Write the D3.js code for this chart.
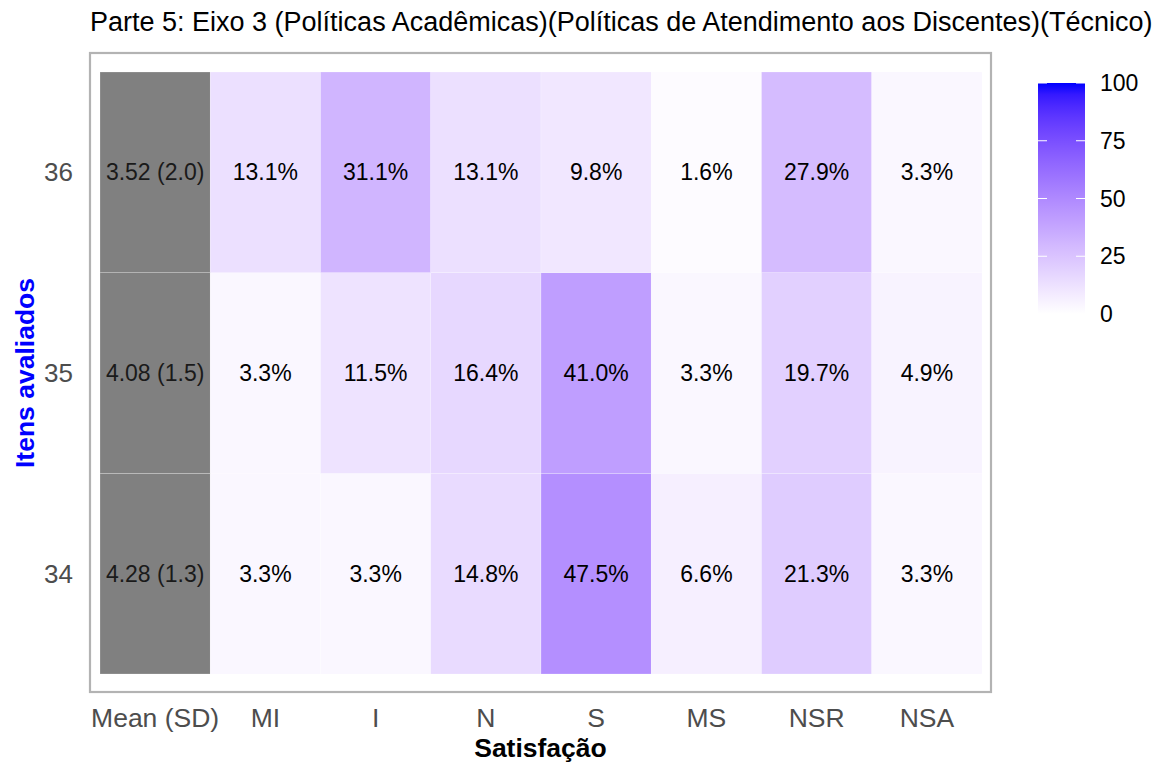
<!DOCTYPE html>
<html>
<head>
<meta charset="utf-8">
<script src="https://cdn.jsdelivr.net/npm/d3@7"></script>
<style>
  body { margin: 0; background: #fff; }
  text { font-family: "Liberation Sans", Arial, sans-serif; }
</style>
</head>
<body>
<div id="chart"></div>
<script>
const items = ['34', '35', '36'];
const categories = ['MI', 'I', 'N', 'S', 'MS', 'NSR', 'NSA'];
const meanLabels = ['4.28 (1.3)', '4.08 (1.5)', '3.52 (2.0)'];
const values34 = [3.3, 3.3, 14.8, 47.5, 6.6, 21.3, 3.3];
const values35 = [3.3, 11.5, 16.4, 41.0, 3.3, 19.7, 4.9];
const values36 = [13.1, 31.1, 13.1, 9.8, 1.6, 27.9, 3.3];
const legendTicks = [0, 25, 50, 75, 100];

const width = 1160, height = 762;
const svg = d3.select('#chart').append('svg')
              .attr('width', width)
              .attr('height', height);

const panel = {x0: 90, x1: 991, y0: 53, y1: 692};
const columns = ['Mean (SD)', ...categories];

const x = d3.scaleBand().domain(columns).range([100, 982]);
const y = d3.scaleBand().domain(items.slice().reverse()).range([72, 674]);
const color = d3.scaleLinear().domain([0, 100]).range(['white', 'blue']).interpolate(d3.interpolateLab);

const rows = [values34, values35, values36];
const cells = [];
items.forEach((it, i) => {
    cells.push({item: it, col: 'Mean (SD)', label: meanLabels[i], mean: true});
    categories.forEach((c, j) => {
        cells.push({item: it, col: c, value: rows[i][j], label: rows[i][j].toFixed(1) + '%'});
    });
});

// title
svg.append('text')
   .attr('x', 90).attr('y', 31)
   .attr('font-size', 27)
   .attr('fill', '#000')
   .text('Parte 5: Eixo 3 (Políticas Acadêmicas)(Políticas de Atendimento aos Discentes)(Técnico)');

// tiles
svg.selectAll('rect.tile')
   .data(cells)
   .enter().append('rect')
   .attr('class', 'tile')
   .attr('x', d => x(d.col))
   .attr('y', d => y(d.item))
   .attr('width', x.bandwidth())
   .attr('height', y.bandwidth())
   .attr('fill', d => d.mean ? '#808080' : color(d.value))
   .attr('stroke', 'rgba(255,255,255,0.35)')
   .attr('stroke-width', 0.6);

svg.selectAll('text.cell')
   .data(cells)
   .enter().append('text')
   .attr('class', 'cell')
   .attr('x', d => x(d.col) + x.bandwidth() / 2)
   .attr('y', d => y(d.item) + y.bandwidth() / 2)
   .attr('dy', '0.35em')
   .attr('text-anchor', 'middle')
   .attr('font-size', 23)
   .attr('fill', d => d.mean ? '#1a1a1a' : '#000')
   .text(d => d.label);

// panel border
svg.append('rect')
   .attr('x', panel.x0).attr('y', panel.y0)
   .attr('width', panel.x1 - panel.x0)
   .attr('height', panel.y1 - panel.y0)
   .attr('fill', 'none')
   .attr('stroke', '#b3b3b3')
   .attr('stroke-width', 2.2);

// axes labels
svg.selectAll('text.xtick')
   .data(columns)
   .enter().append('text')
   .attr('class', 'xtick')
   .attr('x', d => x(d) + x.bandwidth() / 2)
   .attr('y', 727)
   .attr('text-anchor', 'middle')
   .attr('font-size', 26.5)
   .attr('fill', '#4d4d4d')
   .text(d => d);

svg.selectAll('text.ytick')
   .data(items)
   .enter().append('text')
   .attr('class', 'ytick')
   .attr('x', 73)
   .attr('y', d => y(d) + y.bandwidth() / 2)
   .attr('dy', '0.35em')
   .attr('text-anchor', 'end')
   .attr('font-size', 26)
   .attr('fill', '#4d4d4d')
   .text(d => d);

svg.append('text')
   .attr('x', (panel.x0 + panel.x1) / 2)
   .attr('y', 757)
   .attr('text-anchor', 'middle')
   .attr('font-size', 26.5)
   .attr('font-weight', 'bold')
   .attr('fill', '#000')
   .text('Satisfação');

svg.append('text')
   .attr('transform', `translate(34, ${(72 + 674) / 2}) rotate(-90)`)
   .attr('text-anchor', 'middle')
   .attr('font-size', 26.5)
   .attr('font-weight', 'bold')
   .attr('fill', 'blue')
   .text('Itens avaliados');

// legend colorbar
const defs = svg.append('defs');
const grad = defs.append('linearGradient')
                 .attr('id', 'grad')
                 .attr('x1', 0).attr('y1', 1).attr('x2', 0).attr('y2', 0);
d3.range(0, 101, 5).forEach(v => {
    grad.append('stop').attr('offset', v / 100).attr('stop-color', color(v));
});

const lx = 1038, lw = 47;
const ly = d3.scaleLinear().domain([0, 100]).range([314, 83]);
svg.append('rect')
   .attr('x', lx).attr('y', ly(100))
   .attr('width', lw).attr('height', ly(0) - ly(100))
   .attr('fill', 'url(#grad)');

const lt = svg.selectAll('g.ltick')
              .data(legendTicks)
              .enter().append('g')
              .attr('class', 'ltick');
lt.append('line')
  .attr('x1', lx).attr('x2', lx + 9)
  .attr('y1', d => ly(d)).attr('y2', d => ly(d))
  .attr('stroke', '#fff').attr('stroke-width', 1);
lt.append('line')
  .attr('x1', lx + lw - 9).attr('x2', lx + lw)
  .attr('y1', d => ly(d)).attr('y2', d => ly(d))
  .attr('stroke', '#fff').attr('stroke-width', 1);
lt.append('text')
  .attr('x', 1100)
  .attr('y', d => ly(d))
  .attr('dy', '0.35em')
  .attr('font-size', 23)
  .attr('fill', '#000')
  .text(d => d);
</script>
</body>
</html>
